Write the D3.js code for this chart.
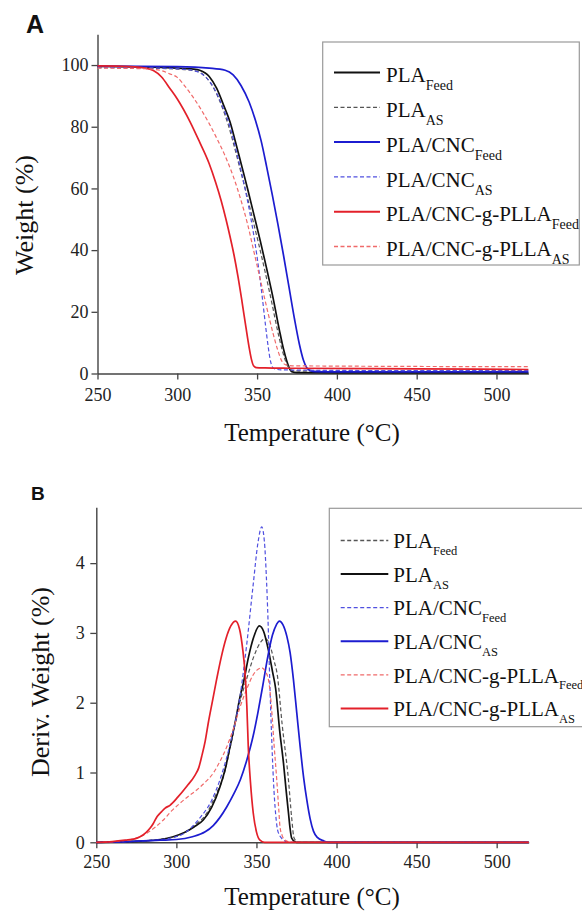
<!DOCTYPE html>
<html>
<head>
<meta charset="utf-8">
<script src="https://cdn.jsdelivr.net/npm/d3@7"></script>
<style>
  body { margin: 0; background: #fff; }
  svg { display: block; }
  .tick text { font-family: 'Liberation Serif', 'Times New Roman', serif; }
</style>
</head>
<body>
<div id="container"></div>
<script>
// page size
var width = 582;
var height = 912;
var serif = "'Liberation Serif', 'Times New Roman', serif";

//-----------------------------DATA------------------------------//
// x ticks shared by both panels
var tempTicks = [250, 300, 350, 400, 450, 500];
var weightTicks = [0, 20, 40, 60, 80, 100];
var derivTicks = [0, 1, 2, 3, 4];

// panel A : TGA weight (%) vs temperature, [T, weight]
var tgaPlaFeed = [[250,99.6],[280,99.4],[300,99.0],[310,98.7],[314,98.3],[320,96.3],[324.7,92.4],[329,87],[333,81.6],[336.5,75],[340,68],[344,60],[348,51.5],[352,43],[356,34],[360,24.5],[364,14],[366.5,8],[368.5,4.2],[370,2],[371.7,0.6],[375,0.3],[400,0.2],[520,0.2]];
var tgaPlaAS = [[250,99.2],[280,99.0],[300,98.7],[312,98.0],[318,96.0],[323,92.3],[328,86.5],[332,80.5],[335.5,74],[339,67],[343,59],[347,50.5],[351,42],[355,33],[359,23.5],[363,13.5],[365.8,7.5],[368,3.8],[370,1.8],[372,1.0],[376,0.8],[400,0.8],[520,0.8]];
var tgaCncFeed = [[250,99.7],[300,99.5],[320,99.0],[330,98.3],[335,96.8],[340,93.3],[345,88],[349,82],[352.5,75.5],[356,67],[359.5,58],[363,48.5],[366.5,38.5],[370,28],[373.5,17.5],[376.5,9.5],[379,4.4],[381,2],[383,1],[387,0.6],[400,0.5],[520,0.5]];
var tgaCncAS = [[250,99.3],[290,99.0],[305,98.6],[313,97.8],[318,96],[323,92.5],[328,87],[333,80],[338,70],[342,61],[345.5,52],[348.5,43],[351,34],[353.3,24.5],[355.3,15.5],[357,8.5],[358.4,4],[359.5,2.2],[361,1.5],[365,1.2],[400,1.0],[520,0.9]];
var tgaPllaFeed = [[250,99.7],[270,99.5],[280,99.0],[285,98.2],[290,96.2],[295.4,92.4],[300,89],[308,81.6],[314,75],[320,68],[324,62],[327.5,56],[330.5,50],[333,44.5],[335.5,38.5],[338,31.5],[340.5,23.5],[343,15],[345,8.5],[346.5,4.5],[347.8,2.5],[349.5,1.9],[355,1.8],[370,1.7],[450,1.5],[520,1.3]];
var tgaPllaAS = [[250,99.0],[280,98.8],[290,98.2],[295,97.2],[300,96],[305,93],[310,89.5],[315,85.5],[320,81],[325,76],[330,70.5],[335,64],[340,56],[344,48.5],[348,39.5],[352,30.5],[356,21.5],[360,13],[363,7.5],[365.5,4],[368,2.8],[372,2.5],[400,2.4],[520,2.2]];

// panel B : derivative weight (%) vs temperature, [T, deriv]
var dtgPlaFeed = [[250,0],[270,0.01],[285,0.03],[295,0.06],[302,0.1],[310,0.22],[319,0.42],[325,0.7],[329.4,0.94],[334,1.4],[339,1.95],[344,2.35],[349,2.7],[353,2.88],[355.5,2.92],[358,2.85],[361,2.6],[363,2.4],[366,1.7],[370,0.89],[372,0.35],[373.5,0.06],[376,0],[520,0]];
var dtgPlaAS = [[250,0],[280,0.02],[290,0.04],[298,0.08],[305,0.14],[311,0.22],[316.8,0.32],[322,0.5],[327.3,0.8],[330.5,1.05],[333.5,1.37],[337,1.75],[339.8,2.09],[342,2.3],[345,2.65],[348,2.92],[351.8,3.1],[354.5,3.02],[357.5,2.75],[360,2.45],[362,2.2],[364.5,1.6],[366.9,1.13],[368.5,0.75],[370,0.42],[371,0.2],[372,0.06],[375,0],[520,0]];
var dtgCncFeed = [[250,0],[280,0.02],[298,0.07],[305,0.13],[314.7,0.35],[322,0.6],[328,0.95],[334,1.45],[339.8,2.1],[344,2.85],[348,3.7],[351,4.3],[353.3,4.52],[355,4.3],[356.2,3.8],[357.2,3.2],[358.3,2.33],[359.5,1.5],[360.6,0.89],[362,0.4],[363.5,0.15],[367,0.03],[370,0],[520,0]];
var dtgCncAS = [[250,0],[270,0.01],[290,0.03],[300,0.04],[310,0.08],[318,0.15],[323,0.24],[327,0.35],[331.5,0.51],[336,0.7],[340,0.9],[344,1.18],[348,1.53],[351,1.87],[354,2.25],[357,2.65],[360,2.97],[362.5,3.12],[364.3,3.17],[366.5,3.12],[369,2.95],[371,2.72],[373.1,2.33],[375.2,1.85],[377.3,1.37],[379.5,0.92],[381.5,0.6],[383.5,0.34],[385.6,0.16],[388,0.07],[392,0.02],[395,0],[520,0]];
var dtgPllaFeed = [[250,0],[265,0.02],[275,0.06],[281.5,0.13],[287,0.22],[291.9,0.32],[297,0.45],[302.3,0.56],[307,0.65],[312.7,0.75],[318,0.86],[323,0.99],[327,1.15],[331.5,1.37],[335.5,1.62],[339.8,1.94],[344,2.2],[348,2.4],[351,2.48],[353.3,2.5],[355.5,2.45],[357.5,2.33],[359.5,1.9],[361,1.4],[362.7,0.89],[364,0.45],[364.7,0.22],[366,0.1],[368,0.03],[372,0],[520,0]];
var dtgPllaAS = [[250,0],[260,0.01],[268,0.03],[274,0.05],[277.3,0.08],[281,0.14],[283.5,0.2],[285.6,0.27],[288,0.37],[290.8,0.44],[293,0.49],[296,0.53],[301,0.65],[306.4,0.8],[311.6,0.96],[314,1.07],[315.8,1.23],[318,1.45],[320,1.72],[322.5,2.02],[325.1,2.33],[328,2.65],[331,2.92],[334,3.1],[337,3.17],[339.5,3.05],[341.5,2.75],[342.9,2.42],[344,1.95],[344.9,1.37],[346.3,0.85],[348,0.42],[350,0.15],[352.2,0.03],[355,0],[520,0]];

// legend names
var names = ["PLA", "PLA", "PLA/CNC", "PLA/CNC", "PLA/CNC-g-PLLA", "PLA/CNC-g-PLLA"];
var subs = ["Feed", "AS", "Feed", "AS", "Feed", "AS"];

//----------------------------STYLES-----------------------------//
var black = "#111", grey = "#555";
var blue = "#1c1cd0", blueLight = "#5050e0";
var red = "#e3202a", redLight = "#f06a6a";

var solid = { dash: null, w: 1.7 };
var dashed = { dash: "4,2.5", w: 1.2 };

var seriesA = [
    { values: tgaPlaFeed, color: black, s: solid },
    { values: tgaPlaAS, color: grey, s: dashed },
    { values: tgaCncFeed, color: blue, s: solid },
    { values: tgaCncAS, color: blueLight, s: dashed },
    { values: tgaPllaFeed, color: red, s: solid },
    { values: tgaPllaAS, color: redLight, s: dashed }
];
var seriesB = [
    { values: dtgPlaFeed, color: grey, s: dashed },
    { values: dtgPlaAS, color: black, s: solid },
    { values: dtgCncFeed, color: blueLight, s: dashed },
    { values: dtgCncAS, color: blue, s: solid },
    { values: dtgPllaFeed, color: redLight, s: dashed },
    { values: dtgPllaAS, color: red, s: solid }
];

var svg = d3.select("div#container").append("svg")
    .attr("width", width)
    .attr("height", height);

//----------------------------PANEL------------------------------//
function drawPanel(p) {
    var x = d3.scaleLinear().domain([250, 520]).range(p.xr);
    var y = d3.scaleLinear().domain(p.yd).range(p.yr);

    var g = svg.append("g");

    var xaxis = d3.axisBottom(x).tickValues(tempTicks).tickFormat(d3.format("d"))
        .tickSize(6).tickSizeOuter(0).tickPadding(p.xpad);
    var yaxis = d3.axisLeft(y).tickValues(p.yticks).tickFormat(d3.format("d"))
        .tickSize(6).tickSizeOuter(0).tickPadding(p.ypad);

    var gx = g.append("g")
        .attr("transform", "translate(0," + p.yr[0] + ")")
        .call(xaxis)
        .attr("font-family", serif)
        .attr("font-size", p.tickFont);
    var gy = g.append("g")
        .attr("transform", "translate(" + p.xr[0] + ",0)")
        .call(yaxis)
        .attr("font-family", serif)
        .attr("font-size", p.tickFont);

    [gx, gy].forEach(function (a) {
        a.select(".domain").attr("stroke", "#444").attr("stroke-width", 1.4);
        a.selectAll(".tick line").attr("stroke", "#444").attr("stroke-width", 1.3);
        a.selectAll(".tick text")
            .attr("font-family", serif)
            .attr("font-size", p.tickFont)
            .attr("fill", "#222");
    });

    // curves
    var line = d3.line()
        .x(function (d) { return x(d[0]); })
        .y(function (d) { return y(d[1]); })
        .curve(d3.curveMonotoneX);

    g.selectAll(".curve")
        .data(p.series)
        .enter()
        .append("path")
        .attr("class", "curve")
        .attr("d", function (d) { return line(d.values); })
        .attr("fill", "none")
        .attr("stroke", function (d) { return d.color; })
        .attr("stroke-width", function (d) { return d.s.w; })
        .attr("stroke-dasharray", function (d) { return d.s.dash; });

    // axis titles
    g.append("text")
        .attr("x", 312)
        .attr("y", p.xtitleY)
        .style("text-anchor", "middle")
        .style("font-family", serif)
        .style("font-size", "25px")
        .attr("fill", "#111")
        .text("Temperature (°C)");

    g.append("text")
        .attr("transform", "translate(" + p.ytitle[0] + "," + p.ytitle[1] + ") rotate(-90)")
        .style("text-anchor", "middle")
        .style("font-family", serif)
        .style("font-size", "26px")
        .attr("fill", "#111")
        .text(p.ylabel);

    // panel letter
    g.append("text")
        .attr("x", p.letter[0])
        .attr("y", p.letter[1])
        .style("font-family", "'Liberation Sans', Arial, sans-serif")
        .style("font-weight", "bold")
        .style("font-size", p.letterSize + "px")
        .attr("fill", "#111")
        .text(p.letterText);

    // legend
    var lg = p.legend;
    g.append("rect")
        .attr("x", lg.x0)
        .attr("y", lg.y0)
        .attr("width", lg.x1 - lg.x0)
        .attr("height", lg.y1 - lg.y0)
        .attr("fill", "#fff")
        .attr("stroke", "#9a9a9a")
        .attr("stroke-width", 1.2);

    var items = g.selectAll(".leg")
        .data(p.series)
        .enter()
        .append("g")
        .attr("transform", function (d, i) { return "translate(0," + (lg.first + i * lg.step) + ")"; });

    items.append("line")
        .attr("x1", lg.lx0)
        .attr("x2", lg.lx1)
        .attr("stroke", function (d) { return d.color; })
        .attr("stroke-width", function (d) { return d.s.dash ? 1.3 : 2; })
        .attr("stroke-dasharray", function (d) { return d.s.dash; });

    var t = items.append("text")
        .attr("x", lg.tx)
        .attr("y", lg.base)
        .style("font-family", serif)
        .style("font-size", "21px")
        .attr("fill", "#111");
    t.append("tspan").text(function (d, i) { return names[i]; });
    t.append("tspan")
        .attr("dy", lg.subDy)
        .style("font-size", lg.subFont + "px")
        .text(function (d, i) { return subs[i]; });
}

drawPanel({
    series: seriesA,
    xr: [97.5, 528.4],
    yd: [0, 110],
    yr: [373.5, 34.2],
    yticks: weightTicks,
    xpad: 9, ypad: 3, tickFont: 18,
    xtitleY: 441,
    ytitle: [33, 215],
    ylabel: "Weight (%)",
    letter: [26, 33], letterSize: 25, letterText: "A",
    legend: { x0: 322.7, x1: 579.3, y0: 42, y1: 265, first: 72.5, step: 34.8,
              lx0: 334, lx1: 380, tx: 386, base: 9.7, subDy: 8, subFont: 14 }
});

drawPanel({
    series: seriesB,
    xr: [96.3, 528.7],
    yd: [0, 4.8],
    yr: [842.3, 507.3],
    yticks: derivTicks,
    xpad: 7, ypad: 5.5, tickFont: 18,
    xtitleY: 905,
    ytitle: [49, 682],
    ylabel: "Deriv. Weight (%)",
    letter: [31, 500], letterSize: 19, letterText: "B",
    legend: { x0: 329.3, x1: 600, y0: 508.3, y1: 726.7, first: 540.5, step: 33.6,
              lx0: 340.7, lx1: 388.3, tx: 393.3, base: 7.6, subDy: 7, subFont: 12.5 }
});
</script>
</body>
</html>
